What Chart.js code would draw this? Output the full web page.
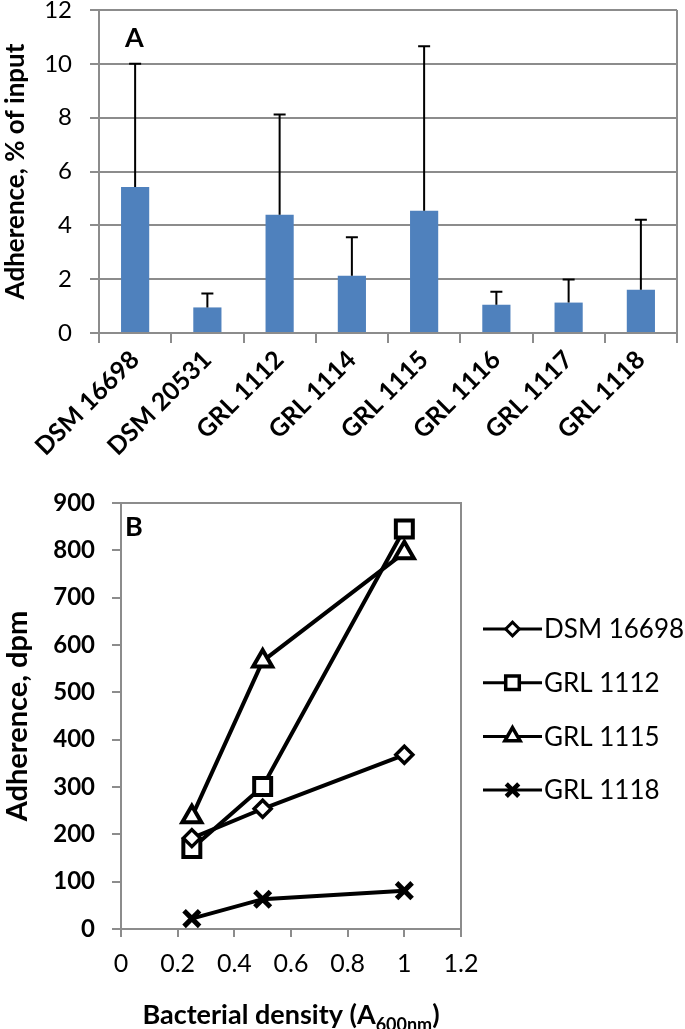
<!DOCTYPE html>
<html>
<head>
<meta charset="utf-8">
<script src="https://cdn.jsdelivr.net/npm/chart.js@4.4.1/dist/chart.umd.min.js"></script>
<style>
  html, body { margin: 0; padding: 0; background: #fff; }
  #wrap { position: relative; width: 685px; height: 1029px; }
  #chartA { position: absolute; left: 0; top: 0; }
  #chartB { position: absolute; left: 0; top: 480px; }
</style>
</head>
<body>
<div id="wrap">
  <canvas id="chartA" width="685" height="480"></canvas>
  <canvas id="chartB" width="685" height="549"></canvas>
</div>
<script>
// Panel A - adherence as % of input
const strains = ['DSM 16698', 'DSM 20531', 'GRL 1112', 'GRL 1114', 'GRL 1115', 'GRL 1116', 'GRL 1117', 'GRL 1118'];
const adherencePct = [5.42, 0.95, 4.39, 2.13, 4.54, 1.05, 1.13, 1.61];
const adherenceSd = [4.58, 0.52, 3.73, 1.43, 6.11, 0.48, 0.86, 2.60];
const yTicksA = ['0', '2', '4', '6', '8', '10', '12'];

// Panel B - adherence (dpm) vs bacterial density
const densities = [0.25, 0.5, 1];
const dsm16698 = [192, 254, 368];
const grl1112 = [170, 301, 845];
const grl1115 = [237, 566, 795];
const grl1118 = [22, 63, 81];
const xTicksB = ['0', '0.2', '0.4', '0.6', '0.8', '1', '1.2'];
const yTicksB = ['0', '100', '200', '300', '400', '500', '600', '700', '800', '900'];

const gray = '#8c8c8c';
Chart.defaults.font.family = 'Lato';
Chart.defaults.color = '#000';

// squash automatic label padding so the plot area lands where we want it
function fixSize(prop, size) {
    return function(scale) {
        scale[prop] = size;
        scale.paddingTop = 0;
        scale.paddingBottom = 0;
        scale.paddingLeft = 0;
        scale.paddingRight = 0;
    };
}

// right (and optionally top) border plus the panel letter
const frame = {
    id: 'frame',
    beforeDatasetsDraw(chart, args, opts) {
        const a = chart.chartArea;
        const ctx = chart.ctx;
        ctx.save();
        ctx.strokeStyle = gray;
        ctx.lineWidth = 2;
        ctx.beginPath();
        if (opts.top) {
            ctx.moveTo(a.left, a.top);
            ctx.lineTo(a.right, a.top);
        }
        ctx.moveTo(a.right, a.top - (opts.top ? 1 : 0));
        ctx.lineTo(a.right, a.bottom);
        ctx.stroke();
        ctx.fillStyle = '#000';
        ctx.font = 'bold 27px Lato';
        ctx.textBaseline = 'middle';
        ctx.textAlign = 'left';
        ctx.fillText(opts.letter, a.left + opts.dx, a.top + opts.dy);
        ctx.restore();
    }
};

// upper error whiskers on the bars
const errorBars = {
    id: 'errorBars',
    afterDatasetsDraw(chart) {
        const meta = chart.getDatasetMeta(0);
        const yScale = chart.scales.y;
        const ctx = chart.ctx;
        ctx.save();
        ctx.strokeStyle = '#000';
        ctx.lineWidth = 2;
        meta.data.forEach((bar, i) => {
            const top = yScale.getPixelForValue(adherencePct[i] + adherenceSd[i]);
            ctx.beginPath();
            ctx.moveTo(bar.x, bar.y);
            ctx.lineTo(bar.x, top);
            ctx.moveTo(bar.x - 6, top);
            ctx.lineTo(bar.x + 6, top);
            ctx.stroke();
        });
        ctx.restore();
    }
};

new Chart(document.getElementById('chartA'), {
    type: 'bar',
    data: {
        labels: strains,
        datasets: [{
            data: adherencePct,
            backgroundColor: '#4f81bd',
            borderWidth: 0,
            barPercentage: 0.39,
            categoryPercentage: 1
        }]
    },
    options: {
        responsive: false,
        animation: false,
        layout: { padding: { top: 10, right: 8, left: 0, bottom: 0 } },
        plugins: {
            legend: { display: false },
            tooltip: { enabled: false },
            frame: { top: false, letter: 'A', dx: 26, dy: 28 }
        },
        scales: {
            x: {
                afterFit: fixSize('height', 147),
                grid: { drawOnChartArea: false, offset: true, tickLength: 10, color: gray, lineWidth: 2 },
                border: { color: gray, width: 2 },
                ticks: {
                    autoSkip: false,
                    minRotation: 45,
                    maxRotation: 45,
                    padding: 2,
                    font: { size: 25, weight: 'bold' }
                }
            },
            y: {
                min: 0,
                max: 12,
                afterFit: fixSize('width', 99),
                grid: { color: gray, lineWidth: 2, tickLength: 9 },
                border: { color: gray, width: 2 },
                ticks: {
                    stepSize: 2,
                    padding: 18,
                    font: { size: 24 },
                    callback: (v, i) => yTicksA[i]
                },
                title: {
                    display: true,
                    text: 'Adherence, % of input',
                    font: { size: 26, weight: 'bold' },
                    padding: { top: 0, bottom: 0 }
                }
            }
        }
    },
    plugins: [frame, errorBars]
});

// legend drawn as line + marker, like the original
const lineLegend = {
    id: 'lineLegend',
    afterDraw(chart, args, opts) {
        const ctx = chart.ctx;
        chart.data.datasets.forEach((ds, i) => {
            const y = opts.top + i * opts.spacing;
            const mid = opts.x + opts.lineLength / 2;
            ctx.save();
            ctx.strokeStyle = '#000';
            ctx.lineWidth = 3;
            ctx.beginPath();
            ctx.moveTo(opts.x, y);
            ctx.lineTo(opts.x + opts.lineLength, y);
            ctx.stroke();
            ctx.fillStyle = '#fff';
            ctx.lineWidth = ds.pointBorderWidth - 0.5;
            Chart.helpers.drawPoint(ctx, {
                pointStyle: ds.pointStyle,
                radius: ds.pointRadius * 0.8,
                rotation: 0,
                borderWidth: ds.pointBorderWidth
            }, mid, y);
            ctx.fillStyle = '#000';
            ctx.font = '26px Lato';
            ctx.textBaseline = 'middle';
            ctx.textAlign = 'left';
            ctx.fillText(ds.label, opts.x + opts.lineLength + 2, y + 1);
            ctx.restore();
        });
    }
};

// x title with the A600nm subscript
const subTitle = {
    id: 'subTitle',
    afterDraw(chart, args, opts) {
        const a = chart.chartArea;
        const ctx = chart.ctx;
        ctx.save();
        ctx.fillStyle = '#000';
        ctx.textBaseline = 'alphabetic';
        ctx.textAlign = 'left';
        const big = 'bold 27px Lato';
        const small = 'bold 18px Lato';
        ctx.font = big;
        const w1 = ctx.measureText(opts.main).width;
        const w3 = ctx.measureText(')').width;
        ctx.font = small;
        const w2 = ctx.measureText(opts.sub).width;
        let x = (a.left + a.right) / 2 - (w1 + w2 + w3) / 2;
        const y = opts.y;
        ctx.font = big;
        ctx.fillText(opts.main, x, y);
        x += w1;
        ctx.font = small;
        ctx.fillText(opts.sub, x, y + 7);
        x += w2;
        ctx.font = big;
        ctx.fillText(')', x, y);
        ctx.restore();
    }
};

function series(label, values, style, radius, bw) {
    return {
        label: label,
        data: densities.map((d, i) => ({ x: d, y: values[i] })),
        borderColor: '#000',
        borderWidth: 4,
        pointStyle: style,
        pointRadius: radius,
        pointBorderWidth: bw,
        pointBackgroundColor: '#fff',
        pointBorderColor: '#000',
        tension: 0
    };
}

new Chart(document.getElementById('chartB'), {
    type: 'line',
    data: {
        datasets: [
            series('DSM 16698', dsm16698, 'rectRot', 8.5, 3.5),
            series('GRL 1112', grl1112, 'rect', 12, 4),
            series('GRL 1115', grl1115, 'triangle', 11, 4),
            series('GRL 1118', grl1118, 'crossRot', 11, 5)
        ]
    },
    options: {
        responsive: false,
        animation: false,
        layout: { padding: { top: 23, right: 224, left: 0, bottom: 0 } },
        plugins: {
            legend: { display: false },
            tooltip: { enabled: false },
            frame: { top: true, letter: 'B', dx: 4, dy: 24 },
            lineLegend: { x: 483, lineLength: 59, top: 149, spacing: 53.7 },
            subTitle: { main: 'Bacterial density (A', sub: '600nm', y: 544 }
        },
        scales: {
            x: {
                type: 'linear',
                min: 0,
                max: 1.2,
                afterFit: fixSize('height', 100),
                grid: { drawOnChartArea: false, tickLength: 8, color: gray, lineWidth: 2 },
                border: { color: gray, width: 2 },
                ticks: {
                    stepSize: 0.2,
                    padding: 12,
                    font: { size: 25 },
                    callback: (v, i) => xTicksB[i]
                }
            },
            y: {
                min: 0,
                max: 900,
                afterFit: fixSize('width', 121),
                grid: { drawOnChartArea: false, tickLength: 9, color: gray, lineWidth: 2 },
                border: { color: gray, width: 2 },
                ticks: {
                    stepSize: 100,
                    padding: 17,
                    font: { size: 24, weight: 'bold' },
                    callback: (v, i) => yTicksB[i]
                },
                title: {
                    display: true,
                    text: 'Adherence, dpm',
                    font: { size: 29, weight: 'bold' },
                    padding: { top: 0, bottom: 0 }
                }
            }
        }
    },
    plugins: [frame, lineLegend, subTitle]
});
</script>
</body>
</html>
